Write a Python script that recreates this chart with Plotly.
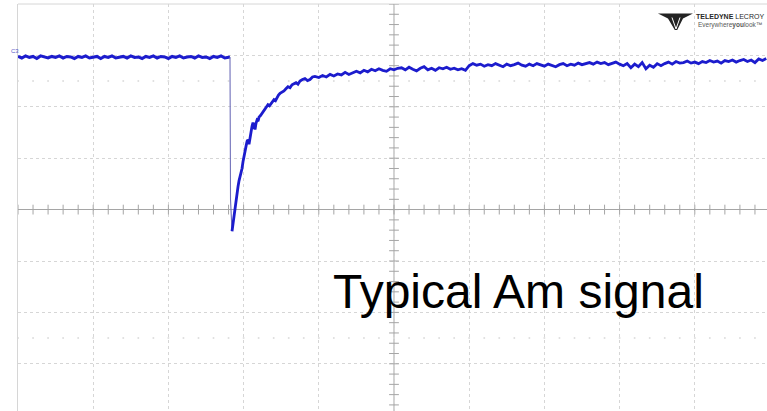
import numpy as np
import plotly.graph_objects as go

# ---- scope screen geometry -------------------------------------------------
W, H = 767, 411
ML, MT = 18, 4                 # graticule left / top edge on screen
X_DIV_PX, Y_DIV_PX = 75.2, 51.4
X_RANGE = [0, (W - ML) / X_DIV_PX]
Y_TOP = 4.0
Y_RANGE = [Y_TOP - (H - MT) / Y_DIV_PX, Y_TOP]

# ---- channel C3 trace (time and amplitude in divisions) ---------------------
pre_step = 0.05
pre_v = [2.98, 2.95, 2.99, 2.96, 2.98, 2.94, 2.99, 2.97, 2.95, 2.98,
         2.96, 2.99, 2.95, 2.98, 2.97, 2.94, 2.98, 2.96, 2.99, 2.95,
         2.97, 2.98, 2.94, 2.98, 2.96, 2.99, 2.95, 2.97, 2.98, 2.95,
         2.99, 2.96, 2.97, 2.94, 2.98, 2.96, 2.99, 2.95, 2.98, 2.97,
         2.94, 2.98, 2.96, 2.99, 2.95, 2.97, 2.98, 2.95, 2.99, 2.96,
         2.97, 2.94, 2.98, 2.96, 2.99, 2.95, 2.97]

edge_t = [2.819, 2.826, 2.846]
edge_v = [2.97, 0.19, -0.42]

rise_t = [2.846, 2.860, 2.872, 2.886, 2.899, 2.912, 2.926, 2.939, 2.952, 2.966,
          2.979, 2.992, 3.005, 3.019, 3.032, 3.046, 3.059, 3.072, 3.085, 3.098,
          3.112, 3.125, 3.138, 3.152, 3.165, 3.178, 3.192, 3.205, 3.225, 3.245,
          3.265, 3.285, 3.305, 3.324, 3.344, 3.364, 3.384, 3.404, 3.424, 3.444,
          3.464, 3.484, 3.510, 3.537, 3.563, 3.590, 3.617, 3.644, 3.670, 3.697,
          3.723, 3.750, 3.783, 3.816, 3.850, 3.883, 3.916, 3.949]
rise_v = [-0.42, -0.25, -0.10, 0.08, 0.23, 0.33, 0.45, 0.56, 0.64, 0.70,
          0.80, 0.93, 1.05, 1.16, 1.23, 1.33, 1.36, 1.27, 1.42, 1.51,
          1.62, 1.69, 1.60, 1.56, 1.68, 1.74, 1.72, 1.80, 1.83, 1.87,
          1.92, 1.96, 1.99, 2.04, 2.02, 2.06, 2.11, 2.14, 2.12, 2.18,
          2.23, 2.26, 2.28, 2.31, 2.35, 2.39, 2.37, 2.43, 2.45, 2.47,
          2.44, 2.50, 2.53, 2.55, 2.51, 2.53, 2.58, 2.59]

tail_t0, tail_step = 4.00, 0.05
tail_v = [2.57, 2.61, 2.58, 2.63, 2.60, 2.64, 2.62, 2.67, 2.63, 2.66,
          2.69, 2.66, 2.71, 2.68, 2.73, 2.70, 2.74, 2.71, 2.69, 2.74, 2.72, 2.75,
          2.76, 2.72, 2.77, 2.73, 2.70, 2.75, 2.78, 2.72, 2.75, 2.71,
          2.76, 2.74, 2.77, 2.73, 2.75, 2.72, 2.74, 2.71,
          2.80, 2.84, 2.81, 2.83, 2.79, 2.82, 2.80, 2.84, 2.81, 2.78,
          2.83, 2.80, 2.82, 2.85, 2.81, 2.79, 2.83, 2.80, 2.84, 2.82,
          2.79, 2.83, 2.81, 2.78, 2.82, 2.84, 2.80, 2.83, 2.81, 2.85,
          2.82, 2.84,
          2.86, 2.83, 2.87, 2.84, 2.86, 2.82, 2.85, 2.87, 2.83, 2.80,
          2.84, 2.76, 2.83, 2.78, 2.86, 2.74, 2.81, 2.77, 2.84, 2.80,
          2.84, 2.87, 2.83, 2.88, 2.85, 2.86, 2.89, 2.85, 2.87, 2.84,
          2.88, 2.86, 2.90, 2.87, 2.89, 2.85, 2.90, 2.88, 2.91, 2.87,
          2.90, 2.92, 2.88, 2.91, 2.86, 2.93, 2.90, 2.94]

pre_t = [round(i * pre_step, 3) for i in range(len(pre_v))] + [edge_t[0]]
pre_v_full = pre_v + [edge_v[0]]
tail_t = [round(tail_t0 + i * tail_step, 3) for i in range(len(tail_v))]

TRACE_BLUE = "rgb(28,28,205)"
GRID = "rgb(214,214,214)"
AXIS = "rgb(165,165,165)"

fig = go.Figure()

# graticule minor ticks on the centre axes and the faint quarter rows
minor_x = [round(k * 0.2, 2) for k in range(0, 50)]
minor_y = [round(-3.8 + k * 0.2, 2) for k in range(0, 40)]
for row in (2.5, -2.5):
    fig.add_trace(go.Scatter(x=minor_x, y=[row] * len(minor_x), mode="markers",
                             marker=dict(symbol="circle", size=2, color="rgb(222,222,222)"),
                             hoverinfo="skip", showlegend=False))
fig.add_trace(go.Scatter(x=minor_x, y=[0] * len(minor_x), mode="markers",
                         marker=dict(symbol="line-ns-open", size=7, color=AXIS,
                                     line=dict(width=1, color=AXIS)),
                         hoverinfo="skip", showlegend=False))
fig.add_trace(go.Scatter(x=[5] * len(minor_y), y=minor_y, mode="markers",
                         marker=dict(symbol="line-ew-open", size=7, color=AXIS,
                                     line=dict(width=1, color=AXIS)),
                         hoverinfo="skip", showlegend=False))

# signal: flat pre-trigger level, fast falling edge, slow recovery
fig.add_trace(go.Scatter(x=pre_t, y=pre_v_full, mode="lines",
                         line=dict(color=TRACE_BLUE, width=3),
                         hoverinfo="skip", showlegend=False))
fig.add_trace(go.Scatter(x=edge_t, y=edge_v, mode="lines",
                         line=dict(color="rgb(110,110,185)", width=1.1),
                         hoverinfo="skip", showlegend=False))
fig.add_trace(go.Scatter(x=rise_t + tail_t, y=rise_v + tail_v, mode="lines",
                         line=dict(color=TRACE_BLUE, width=2.8),
                         hoverinfo="skip", showlegend=False))


def px_x(p):
    return (p - ML) / (W - ML)


def px_y(p):
    return 1 - (p - MT) / (H - MT)


shapes = [
    # vertical centre axis
    dict(type="line", xref="x", yref="y", x0=5, x1=5, y0=Y_RANGE[0], y1=Y_TOP,
         line=dict(color=AXIS, width=1), layer="below"),
    # top border of the graticule
    dict(type="line", xref="paper", yref="paper", x0=0, x1=1, y0=1, y1=1,
         line=dict(color=GRID, width=1), layer="below"),
]

# Teledyne emblem
logo_pts = [(658, 13.5), (693, 13.5), (683, 18.5), (677.2, 30), (674.8, 30), (668, 18.5)]
path = "M " + " L ".join(f"{px_x(a):.5f},{px_y(b):.5f}" for a, b in logo_pts) + " Z"
shapes.append(dict(type="path", xref="paper", yref="paper", path=path,
                   fillcolor="rgb(35,35,35)", line=dict(width=0)))
for a, b in [((672, 17.5), (676, 29)), ((680, 17.5), (676, 29))]:
    shapes.append(dict(type="line", xref="paper", yref="paper",
                       x0=px_x(a[0]), y0=px_y(a[1]), x1=px_x(b[0]), y1=px_y(b[1]),
                       line=dict(color="white", width=1)))

annotations = [
    dict(text="Typical Am signal", xref="paper", yref="paper",
         x=px_x(331), y=px_y(291), xanchor="left", yanchor="middle", showarrow=False,
         font=dict(family="Liberation Sans, Arial, sans-serif", size=48, color="black")),
    dict(text="<b>TELEDYNE</b> LECROY", xref="paper", yref="paper",
         x=px_x(765.5), y=px_y(16.5), xanchor="right", yanchor="middle", showarrow=False,
         font=dict(family="Liberation Sans, Arial, sans-serif", size=7, color="rgb(40,40,40)")),
    dict(text="Everywhere<b>you</b>look\u2122", xref="paper", yref="paper",
         x=px_x(696), y=px_y(25), xanchor="left", yanchor="middle", showarrow=False,
         font=dict(family="Liberation Sans, Arial, sans-serif", size=6.5, color="rgb(90,90,90)")),
    dict(text="C3", xref="paper", yref="paper",
         x=px_x(9), y=px_y(51.5), xanchor="left", yanchor="middle", showarrow=False,
         font=dict(family="Liberation Sans, Arial, sans-serif", size=6, color="rgb(90,90,200)")),
]

fig.update_layout(
    width=W, height=H, autosize=False,
    margin=dict(l=ML, r=0, t=MT, b=0, pad=0),
    paper_bgcolor="white", plot_bgcolor="white",
    showlegend=False, hovermode=False,
    shapes=shapes, annotations=annotations,
    xaxis=dict(range=X_RANGE, tick0=0, dtick=1, showticklabels=False, ticks="",
               showgrid=True, gridcolor=GRID, griddash="dot", gridwidth=1,
               zeroline=False, showline=False, fixedrange=True),
    yaxis=dict(range=Y_RANGE, tick0=0, dtick=1, showticklabels=False, ticks="",
               showgrid=True, gridcolor=GRID, griddash="dot", gridwidth=1,
               zeroline=True, zerolinecolor=AXIS, zerolinewidth=1,
               showline=True, linecolor=GRID, linewidth=1, fixedrange=True),
)

fig.write_html("out.html", config={"displayModeBar": False})
